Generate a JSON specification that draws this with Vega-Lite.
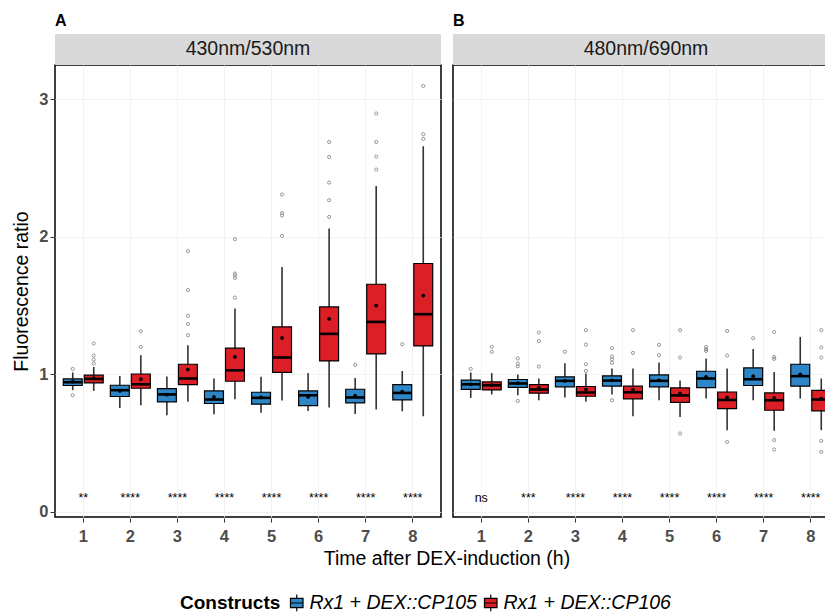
{
  "$schema": "https://vega.github.io/schema/vega-lite/v6.json",
  "background": "white",
  "padding": {"left": 11, "top": 13, "right": 0, "bottom": 0},
  "data": {
    "values": [
      {"panel": "A", "strip": "430nm/530nm"},
      {"panel": "B", "strip": "480nm/690nm"},
      {"panel": "A", "time": 1, "construct": "Rx1 + DEX::CP105", "lo": 0.883, "q1": 0.917, "med": 0.941, "q3": 0.965, "hi": 1.012, "mean": 0.946},
      {"panel": "A", "time": 1, "construct": "Rx1 + DEX::CP106", "lo": 0.878, "q1": 0.936, "med": 0.965, "q3": 0.992, "hi": 1.052, "mean": 0.97},
      {"panel": "A", "time": 2, "construct": "Rx1 + DEX::CP105", "lo": 0.754, "q1": 0.837, "med": 0.883, "q3": 0.919, "hi": 0.987, "mean": 0.878},
      {"panel": "A", "time": 2, "construct": "Rx1 + DEX::CP106", "lo": 0.774, "q1": 0.897, "med": 0.926, "q3": 1.001, "hi": 1.138, "mean": 0.963},
      {"panel": "A", "time": 3, "construct": "Rx1 + DEX::CP105", "lo": 0.701, "q1": 0.798, "med": 0.852, "q3": 0.895, "hi": 0.983, "mean": 0.85},
      {"panel": "A", "time": 3, "construct": "Rx1 + DEX::CP106", "lo": 0.798, "q1": 0.924, "med": 0.968, "q3": 1.072, "hi": 1.21, "mean": 1.033},
      {"panel": "A", "time": 4, "construct": "Rx1 + DEX::CP105", "lo": 0.708, "q1": 0.786, "med": 0.815, "q3": 0.878, "hi": 0.968, "mean": 0.834},
      {"panel": "A", "time": 4, "construct": "Rx1 + DEX::CP106", "lo": 0.817, "q1": 0.948, "med": 1.028, "q3": 1.189, "hi": 1.477, "mean": 1.125},
      {"panel": "A", "time": 5, "construct": "Rx1 + DEX::CP105", "lo": 0.718, "q1": 0.781, "med": 0.827, "q3": 0.868, "hi": 0.98, "mean": 0.83},
      {"panel": "A", "time": 5, "construct": "Rx1 + DEX::CP106", "lo": 0.808, "q1": 1.012, "med": 1.121, "q3": 1.344, "hi": 1.78, "mean": 1.263},
      {"panel": "A", "time": 6, "construct": "Rx1 + DEX::CP105", "lo": 0.732, "q1": 0.771, "med": 0.846, "q3": 0.878, "hi": 1.009, "mean": 0.834},
      {"panel": "A", "time": 6, "construct": "Rx1 + DEX::CP106", "lo": 0.757, "q1": 1.096, "med": 1.293, "q3": 1.489, "hi": 2.06, "mean": 1.402},
      {"panel": "A", "time": 7, "construct": "Rx1 + DEX::CP105", "lo": 0.71, "q1": 0.79, "med": 0.83, "q3": 0.89, "hi": 0.972, "mean": 0.844},
      {"panel": "A", "time": 7, "construct": "Rx1 + DEX::CP106", "lo": 0.742, "q1": 1.147, "med": 1.38, "q3": 1.654, "hi": 2.37, "mean": 1.499},
      {"panel": "A", "time": 8, "construct": "Rx1 + DEX::CP105", "lo": 0.73, "q1": 0.812, "med": 0.863, "q3": 0.924, "hi": 1.023, "mean": 0.873},
      {"panel": "A", "time": 8, "construct": "Rx1 + DEX::CP106", "lo": 0.694, "q1": 1.205, "med": 1.436, "q3": 1.805, "hi": 2.659, "mean": 1.572},
      {"panel": "B", "time": 1, "construct": "Rx1 + DEX::CP105", "lo": 0.827, "q1": 0.889, "med": 0.926, "q3": 0.956, "hi": 1.012, "mean": 0.926},
      {"panel": "B", "time": 1, "construct": "Rx1 + DEX::CP106", "lo": 0.852, "q1": 0.885, "med": 0.919, "q3": 0.943, "hi": 1.007, "mean": 0.92},
      {"panel": "B", "time": 2, "construct": "Rx1 + DEX::CP105", "lo": 0.846, "q1": 0.903, "med": 0.932, "q3": 0.961, "hi": 0.997, "mean": 0.935},
      {"panel": "B", "time": 2, "construct": "Rx1 + DEX::CP106", "lo": 0.81, "q1": 0.861, "med": 0.888, "q3": 0.924, "hi": 0.968, "mean": 0.9},
      {"panel": "B", "time": 3, "construct": "Rx1 + DEX::CP105", "lo": 0.83, "q1": 0.907, "med": 0.951, "q3": 0.98, "hi": 1.079, "mean": 0.95},
      {"panel": "B", "time": 3, "construct": "Rx1 + DEX::CP106", "lo": 0.798, "q1": 0.839, "med": 0.866, "q3": 0.91, "hi": 1.004, "mean": 0.888},
      {"panel": "B", "time": 4, "construct": "Rx1 + DEX::CP105", "lo": 0.852, "q1": 0.912, "med": 0.953, "q3": 0.987, "hi": 1.041, "mean": 0.955},
      {"panel": "B", "time": 4, "construct": "Rx1 + DEX::CP106", "lo": 0.694, "q1": 0.82, "med": 0.868, "q3": 0.912, "hi": 1.041, "mean": 0.888},
      {"panel": "B", "time": 5, "construct": "Rx1 + DEX::CP105", "lo": 0.81, "q1": 0.907, "med": 0.951, "q3": 0.994, "hi": 1.084, "mean": 0.955},
      {"panel": "B", "time": 5, "construct": "Rx1 + DEX::CP106", "lo": 0.688, "q1": 0.794, "med": 0.845, "q3": 0.9, "hi": 0.953, "mean": 0.859},
      {"panel": "B", "time": 6, "construct": "Rx1 + DEX::CP105", "lo": 0.822, "q1": 0.902, "med": 0.968, "q3": 1.021, "hi": 1.114, "mean": 0.98},
      {"panel": "B", "time": 6, "construct": "Rx1 + DEX::CP106", "lo": 0.592, "q1": 0.749, "med": 0.812, "q3": 0.87, "hi": 1.041, "mean": 0.83},
      {"panel": "B", "time": 7, "construct": "Rx1 + DEX::CP105", "lo": 0.81, "q1": 0.917, "med": 0.963, "q3": 1.045, "hi": 1.183, "mean": 0.985},
      {"panel": "B", "time": 7, "construct": "Rx1 + DEX::CP106", "lo": 0.587, "q1": 0.737, "med": 0.81, "q3": 0.863, "hi": 1.016, "mean": 0.827},
      {"panel": "B", "time": 8, "construct": "Rx1 + DEX::CP105", "lo": 0.822, "q1": 0.912, "med": 0.985, "q3": 1.072, "hi": 1.271, "mean": 0.999},
      {"panel": "B", "time": 8, "construct": "Rx1 + DEX::CP106", "lo": 0.592, "q1": 0.733, "med": 0.815, "q3": 0.881, "hi": 0.968, "mean": 0.822},
      {"panel": "A", "time": 1, "construct": "Rx1 + DEX::CP105", "out": 1.038},
      {"panel": "A", "time": 1, "construct": "Rx1 + DEX::CP105", "out": 0.846},
      {"panel": "A", "time": 1, "construct": "Rx1 + DEX::CP106", "out": 1.223},
      {"panel": "A", "time": 1, "construct": "Rx1 + DEX::CP106", "out": 1.135},
      {"panel": "A", "time": 1, "construct": "Rx1 + DEX::CP106", "out": 1.106},
      {"panel": "A", "time": 1, "construct": "Rx1 + DEX::CP106", "out": 1.077},
      {"panel": "A", "time": 2, "construct": "Rx1 + DEX::CP106", "out": 1.198},
      {"panel": "A", "time": 2, "construct": "Rx1 + DEX::CP106", "out": 1.312},
      {"panel": "A", "time": 3, "construct": "Rx1 + DEX::CP106", "out": 1.283},
      {"panel": "A", "time": 3, "construct": "Rx1 + DEX::CP106", "out": 1.365},
      {"panel": "A", "time": 3, "construct": "Rx1 + DEX::CP106", "out": 1.425},
      {"panel": "A", "time": 3, "construct": "Rx1 + DEX::CP106", "out": 1.612},
      {"panel": "A", "time": 3, "construct": "Rx1 + DEX::CP106", "out": 1.895},
      {"panel": "A", "time": 4, "construct": "Rx1 + DEX::CP106", "out": 1.982},
      {"panel": "A", "time": 4, "construct": "Rx1 + DEX::CP106", "out": 1.732},
      {"panel": "A", "time": 4, "construct": "Rx1 + DEX::CP106", "out": 1.718},
      {"panel": "A", "time": 4, "construct": "Rx1 + DEX::CP106", "out": 1.7},
      {"panel": "A", "time": 4, "construct": "Rx1 + DEX::CP106", "out": 1.557},
      {"panel": "A", "time": 5, "construct": "Rx1 + DEX::CP106", "out": 2.307},
      {"panel": "A", "time": 5, "construct": "Rx1 + DEX::CP106", "out": 2.172},
      {"panel": "A", "time": 5, "construct": "Rx1 + DEX::CP106", "out": 2.155},
      {"panel": "A", "time": 5, "construct": "Rx1 + DEX::CP106", "out": 2.006},
      {"panel": "A", "time": 6, "construct": "Rx1 + DEX::CP106", "out": 2.69},
      {"panel": "A", "time": 6, "construct": "Rx1 + DEX::CP106", "out": 2.581},
      {"panel": "A", "time": 6, "construct": "Rx1 + DEX::CP106", "out": 2.394},
      {"panel": "A", "time": 6, "construct": "Rx1 + DEX::CP106", "out": 2.266},
      {"panel": "A", "time": 6, "construct": "Rx1 + DEX::CP106", "out": 2.144},
      {"panel": "A", "time": 7, "construct": "Rx1 + DEX::CP105", "out": 1.067},
      {"panel": "A", "time": 7, "construct": "Rx1 + DEX::CP106", "out": 2.489},
      {"panel": "A", "time": 7, "construct": "Rx1 + DEX::CP106", "out": 2.584},
      {"panel": "A", "time": 7, "construct": "Rx1 + DEX::CP106", "out": 2.69},
      {"panel": "A", "time": 7, "construct": "Rx1 + DEX::CP106", "out": 2.897},
      {"panel": "A", "time": 8, "construct": "Rx1 + DEX::CP105", "out": 1.218},
      {"panel": "A", "time": 8, "construct": "Rx1 + DEX::CP106", "out": 2.712},
      {"panel": "A", "time": 8, "construct": "Rx1 + DEX::CP106", "out": 2.746},
      {"panel": "A", "time": 8, "construct": "Rx1 + DEX::CP106", "out": 3.098},
      {"panel": "B", "time": 1, "construct": "Rx1 + DEX::CP105", "out": 1.038},
      {"panel": "B", "time": 1, "construct": "Rx1 + DEX::CP106", "out": 1.198},
      {"panel": "B", "time": 1, "construct": "Rx1 + DEX::CP106", "out": 1.162},
      {"panel": "B", "time": 2, "construct": "Rx1 + DEX::CP105", "out": 1.114},
      {"panel": "B", "time": 2, "construct": "Rx1 + DEX::CP105", "out": 1.077},
      {"panel": "B", "time": 2, "construct": "Rx1 + DEX::CP105", "out": 1.057},
      {"panel": "B", "time": 2, "construct": "Rx1 + DEX::CP105", "out": 0.805},
      {"panel": "B", "time": 2, "construct": "Rx1 + DEX::CP106", "out": 1.303},
      {"panel": "B", "time": 2, "construct": "Rx1 + DEX::CP106", "out": 1.24},
      {"panel": "B", "time": 2, "construct": "Rx1 + DEX::CP106", "out": 1.055},
      {"panel": "B", "time": 3, "construct": "Rx1 + DEX::CP105", "out": 1.162},
      {"panel": "B", "time": 3, "construct": "Rx1 + DEX::CP106", "out": 1.32},
      {"panel": "B", "time": 3, "construct": "Rx1 + DEX::CP106", "out": 1.215},
      {"panel": "B", "time": 3, "construct": "Rx1 + DEX::CP106", "out": 1.072},
      {"panel": "B", "time": 3, "construct": "Rx1 + DEX::CP106", "out": 1.023},
      {"panel": "B", "time": 4, "construct": "Rx1 + DEX::CP105", "out": 1.189},
      {"panel": "B", "time": 4, "construct": "Rx1 + DEX::CP105", "out": 1.128},
      {"panel": "B", "time": 4, "construct": "Rx1 + DEX::CP105", "out": 1.108},
      {"panel": "B", "time": 4, "construct": "Rx1 + DEX::CP105", "out": 1.082},
      {"panel": "B", "time": 4, "construct": "Rx1 + DEX::CP105", "out": 0.81},
      {"panel": "B", "time": 4, "construct": "Rx1 + DEX::CP106", "out": 1.32},
      {"panel": "B", "time": 4, "construct": "Rx1 + DEX::CP106", "out": 1.154},
      {"panel": "B", "time": 5, "construct": "Rx1 + DEX::CP105", "out": 1.213},
      {"panel": "B", "time": 5, "construct": "Rx1 + DEX::CP105", "out": 1.138},
      {"panel": "B", "time": 5, "construct": "Rx1 + DEX::CP106", "out": 1.32},
      {"panel": "B", "time": 5, "construct": "Rx1 + DEX::CP106", "out": 1.121},
      {"panel": "B", "time": 5, "construct": "Rx1 + DEX::CP106", "out": 0.568},
      {"panel": "B", "time": 6, "construct": "Rx1 + DEX::CP105", "out": 1.198},
      {"panel": "B", "time": 6, "construct": "Rx1 + DEX::CP105", "out": 1.181},
      {"panel": "B", "time": 6, "construct": "Rx1 + DEX::CP105", "out": 1.169},
      {"panel": "B", "time": 6, "construct": "Rx1 + DEX::CP106", "out": 1.314},
      {"panel": "B", "time": 6, "construct": "Rx1 + DEX::CP106", "out": 1.135},
      {"panel": "B", "time": 6, "construct": "Rx1 + DEX::CP106", "out": 0.507},
      {"panel": "B", "time": 7, "construct": "Rx1 + DEX::CP105", "out": 1.261},
      {"panel": "B", "time": 7, "construct": "Rx1 + DEX::CP106", "out": 1.306},
      {"panel": "B", "time": 7, "construct": "Rx1 + DEX::CP106", "out": 1.125},
      {"panel": "B", "time": 7, "construct": "Rx1 + DEX::CP106", "out": 1.111},
      {"panel": "B", "time": 7, "construct": "Rx1 + DEX::CP106", "out": 0.52},
      {"panel": "B", "time": 7, "construct": "Rx1 + DEX::CP106", "out": 0.451},
      {"panel": "B", "time": 8, "construct": "Rx1 + DEX::CP106", "out": 1.32},
      {"panel": "B", "time": 8, "construct": "Rx1 + DEX::CP106", "out": 1.194},
      {"panel": "B", "time": 8, "construct": "Rx1 + DEX::CP106", "out": 1.121},
      {"panel": "B", "time": 8, "construct": "Rx1 + DEX::CP106", "out": 0.514},
      {"panel": "B", "time": 8, "construct": "Rx1 + DEX::CP106", "out": 0.434},
      {"panel": "A", "time": 1, "sig": "**"},
      {"panel": "A", "time": 2, "sig": "****"},
      {"panel": "A", "time": 3, "sig": "****"},
      {"panel": "A", "time": 4, "sig": "****"},
      {"panel": "A", "time": 5, "sig": "****"},
      {"panel": "A", "time": 6, "sig": "****"},
      {"panel": "A", "time": 7, "sig": "****"},
      {"panel": "A", "time": 8, "sig": "****"},
      {"panel": "B", "time": 1, "sig": "ns"},
      {"panel": "B", "time": 2, "sig": "***"},
      {"panel": "B", "time": 3, "sig": "****"},
      {"panel": "B", "time": 4, "sig": "****"},
      {"panel": "B", "time": 5, "sig": "****"},
      {"panel": "B", "time": 6, "sig": "****"},
      {"panel": "B", "time": 7, "sig": "****"},
      {"panel": "B", "time": 8, "sig": "****"}
    ]
  },
  "facet": {
    "column": {
      "field": "panel",
      "type": "nominal",
      "title": "Time after DEX-induction (h)",
      "header": {
        "labelOrient": "top",
        "titleOrient": "bottom",
        "labelAnchor": "start",
        "labelAlign": "left",
        "labelFontWeight": "bold",
        "labelFontSize": 16,
        "labelColor": "black",
        "labelPadding": 4,
        "titleFontSize": 19.5,
        "titleFontWeight": "normal",
        "titleColor": "black",
        "titlePadding": -5
      }
    }
  },
  "spacing": {"column": 10},
  "spec": {
    "width": 386,
    "height": 452,
    "layer": [
      {
        "transform": [{"filter": "datum.strip != null"}],
        "mark": {"type": "rect", "fill": "#d9d9d9"},
        "encoding": {
          "y": {"datum": 3.25, "type": "quantitative", "title": "Fluorescence ratio"},
          "y2": {"datum": 3.476}
        }
      },
      {
        "transform": [{"filter": "datum.strip != null"}],
        "mark": {"type": "text", "fontSize": 19.5, "color": "#1a1a1a", "baseline": "middle", "align": "center"},
        "encoding": {
          "y": {"datum": 3.363, "type": "quantitative", "title": "Fluorescence ratio"},
          "text": {"field": "strip"}
        }
      },
      {
        "transform": [{"filter": "datum.q1 != null"}],
        "mark": {"type": "rule", "color": "#333333", "strokeWidth": 1.6},
        "encoding": {
          "x": {"field": "time", "type": "ordinal", "title": null, "scale": {"paddingInner": 0, "paddingOuter": 0.1}},
          "xOffset": {"field": "construct", "type": "nominal", "scale": {"paddingInner": 0.1, "paddingOuter": 0.17}},
          "y": {"field": "lo", "type": "quantitative", "title": "Fluorescence ratio", "scale": {"domain": [-0.04, 3.25], "nice": false, "zero": false}, "axis": {"values": [0, 1, 2, 3], "format": "d"}},
          "y2": {"field": "hi"}
        }
      },
      {
        "transform": [{"filter": "datum.q1 != null"}],
        "mark": {"type": "bar", "stroke": "black", "strokeWidth": 1.2, "opacity": 1},
        "encoding": {
          "x": {"field": "time", "type": "ordinal", "title": null},
          "xOffset": {"field": "construct", "type": "nominal"},
          "y": {"field": "q1", "type": "quantitative", "title": "Fluorescence ratio"},
          "y2": {"field": "q3"},
          "color": {
            "field": "construct",
            "type": "nominal",
            "title": "Constructs",
            "scale": {"domain": ["Rx1 + DEX::CP105", "Rx1 + DEX::CP106"], "range": ["#2f86c6", "#dc1f26"]},
            "legend": {
              "orient": "bottom",
              "direction": "horizontal",
              "titleOrient": "left",
              "labelLimit": 400,
              "symbolType": "M-0.75,-0.55H0.75V0.55H-0.75Z M-0.75,0H0.75 M0,-0.55V-1 M0,0.55V1",
              "symbolSize": 280,
              "symbolStrokeColor": "black",
              "symbolStrokeWidth": 1.2,
              "symbolOpacity": 1
            }
          }
        }
      },
      {
        "transform": [{"filter": "datum.q1 != null"}],
        "mark": {"type": "tick", "color": "black", "thickness": 2.6, "size": 19, "opacity": 1},
        "encoding": {
          "x": {"field": "time", "type": "ordinal", "title": null},
          "xOffset": {"field": "construct", "type": "nominal"},
          "y": {"field": "med", "type": "quantitative", "title": "Fluorescence ratio"}
        }
      },
      {
        "transform": [{"filter": "datum.q1 != null"}],
        "mark": {"type": "point", "filled": true, "color": "black", "size": 14, "opacity": 1},
        "encoding": {
          "x": {"field": "time", "type": "ordinal", "title": null},
          "xOffset": {"field": "construct", "type": "nominal"},
          "y": {"field": "mean", "type": "quantitative", "title": "Fluorescence ratio"}
        }
      },
      {
        "transform": [{"filter": "datum.out != null"}],
        "mark": {"type": "point", "filled": false, "color": "#8c8c8c", "size": 10, "strokeWidth": 0.9, "opacity": 1},
        "encoding": {
          "x": {"field": "time", "type": "ordinal", "title": null},
          "xOffset": {"field": "construct", "type": "nominal"},
          "y": {"field": "out", "type": "quantitative", "title": "Fluorescence ratio"}
        }
      },
      {
        "transform": [{"filter": "datum.sig != null"}],
        "mark": {"type": "text", "fontSize": 12.5, "color": "black", "baseline": "alphabetic", "align": "center"},
        "encoding": {
          "x": {"field": "time", "type": "ordinal", "title": null},
          "y": {"datum": 0.068, "type": "quantitative", "title": "Fluorescence ratio"},
          "text": {"field": "sig"}
        }
      }
    ]
  },
  "config": {
    "font": "Liberation Sans",
    "view": {"stroke": "black", "strokeWidth": 1.5},
    "axis": {
      "grid": true,
      "gridColor": "#f0f0f0",
      "gridWidth": 0.8,
      "domain": false,
      "tickColor": "#333333",
      "tickSize": 4,
      "tickWidth": 1,
      "labelFontSize": 16.5,
      "labelFontWeight": "bold",
      "labelColor": "#4d4d4d",
      "labelPadding": 2,
      "titleFontSize": 19.5,
      "titleFontWeight": "normal",
      "titleColor": "black"
    },
    "axisX": {"labelAngle": 0, "labelPadding": 6},
    "axisY": {"titlePadding": 7},
    "legend": {
      "titleFontSize": 19,
      "titleFontWeight": "bold",
      "titleColor": "black",
      "labelFontSize": 19.5,
      "labelFontStyle": "italic",
      "labelColor": "black",
      "labelLimit": 400,
      "columnPadding": 4,
      "labelOffset": 3,
      "titlePadding": 6,
      "padding": 0,
      "offset": 24,
      "layout": {"bottom": {"anchor": "middle"}}
    }
  }
}
